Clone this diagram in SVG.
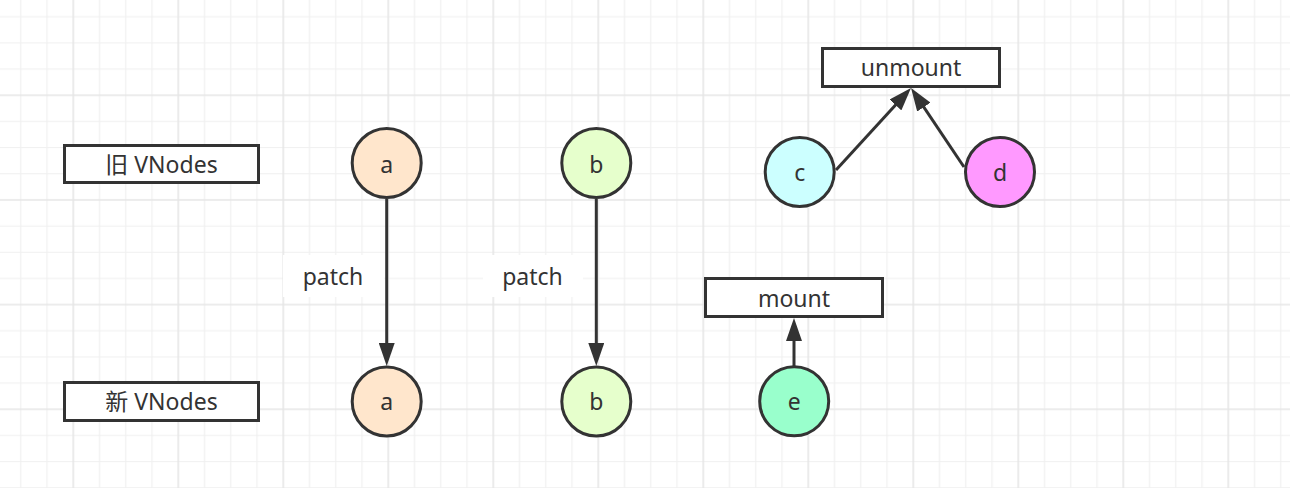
<svg xmlns="http://www.w3.org/2000/svg" width="1290" height="488" viewBox="0 0 1290 488">
<defs>
<pattern id="grid" patternUnits="userSpaceOnUse" x="-33.7" y="-11.4" width="105" height="104.67">
<path d="M28.25 0V104.67M54.5 0V104.67M80.75 0V104.67M0 28.17H105M0 54.33H105M0 80.5H105" stroke="#f0f0f0" stroke-width="1.2" fill="none"/>
<path d="M2 0V104.67M0 2H105" stroke="#e6e6e6" stroke-width="1.6" fill="none"/>
</pattern>
<marker id="arr" markerUnits="userSpaceOnUse" markerWidth="24" markerHeight="16" refX="13" refY="8" orient="auto" viewBox="0 0 24 16">
<path d="M0 0L23 8L0 16z" fill="#333"/>
</marker>
<style>
.box{fill:#fff;stroke:#333;stroke-width:3}
.node{stroke:#333;stroke-width:3}
.t{font-family:"Noto Sans","Open Sans","Noto Sans CJK SC",sans-serif;font-size:23px;fill:#333;text-anchor:middle}
.edge{stroke:#333;stroke-width:3;fill:none;marker-end:url(#arr)}
</style>
</defs>
<rect width="1290" height="488" fill="#fff"/>
<rect width="1290" height="488" fill="url(#grid)"/>

<g id="old-label">
<rect class="box" x="64.5" y="145.5" width="194" height="37"/>
<text class="t" x="161.5" y="172.5">旧 VNodes</text>
</g>
<g id="new-label">
<rect class="box" x="64.5" y="382.5" width="194" height="38"/>
<text class="t" x="161.5" y="409.5">新 VNodes</text>
</g>

<g id="connectors">
<line class="edge" x1="386.7" y1="199" x2="386.7" y2="356"/>
<line class="edge" x1="596.3" y1="199" x2="596.3" y2="356"/>
<line class="edge" x1="836" y1="170" x2="904.25" y2="95.4"/>
<line class="edge" x1="964" y1="167" x2="916.6" y2="96.3"/>
<line class="edge" x1="794" y1="366" x2="794" y2="328"/>
<g id="patch-a">
<rect x="283" y="255" width="101" height="42" fill="#fff"/>
<text class="t" x="333" y="284.5">patch</text>
</g>
<g id="patch-b">
<rect x="483" y="255" width="100" height="42" fill="#fff"/>
<text class="t" x="532.5" y="284.5">patch</text>
</g>
</g>

<g id="a-old"><circle class="node" cx="386.7" cy="163" r="34.5" fill="#ffe6cc"/><text class="t" x="386.7" y="172.5">a</text></g>
<g id="b-old"><circle class="node" cx="596.3" cy="163" r="34.5" fill="#e6ffcc"/><text class="t" x="596.3" y="172.5">b</text></g>
<g id="c"><circle class="node" cx="799.7" cy="172" r="34.5" fill="#ccffff"/><text class="t" x="799.7" y="180.5">c</text></g>
<g id="d"><circle class="node" cx="1000" cy="172" r="34.5" fill="#ff99ff"/><text class="t" x="1000" y="180.5">d</text></g>
<g id="unmount">
<rect class="box" x="822.5" y="48.5" width="177" height="38"/>
<text class="t" x="911" y="76">unmount</text>
</g>
<g id="mount">
<rect class="box" x="705.5" y="278.5" width="177" height="38"/>
<text class="t" x="794" y="306.5">mount</text>
</g>
<g id="a-new"><circle class="node" cx="386.7" cy="401.5" r="34.5" fill="#ffe6cc"/><text class="t" x="386.7" y="410">a</text></g>
<g id="b-new"><circle class="node" cx="596.3" cy="401.5" r="34.5" fill="#e6ffcc"/><text class="t" x="596.3" y="410">b</text></g>
<g id="e"><circle class="node" cx="794.2" cy="401.3" r="34.5" fill="#99ffcc"/><text class="t" x="794.2" y="409.5">e</text></g>
</svg>
